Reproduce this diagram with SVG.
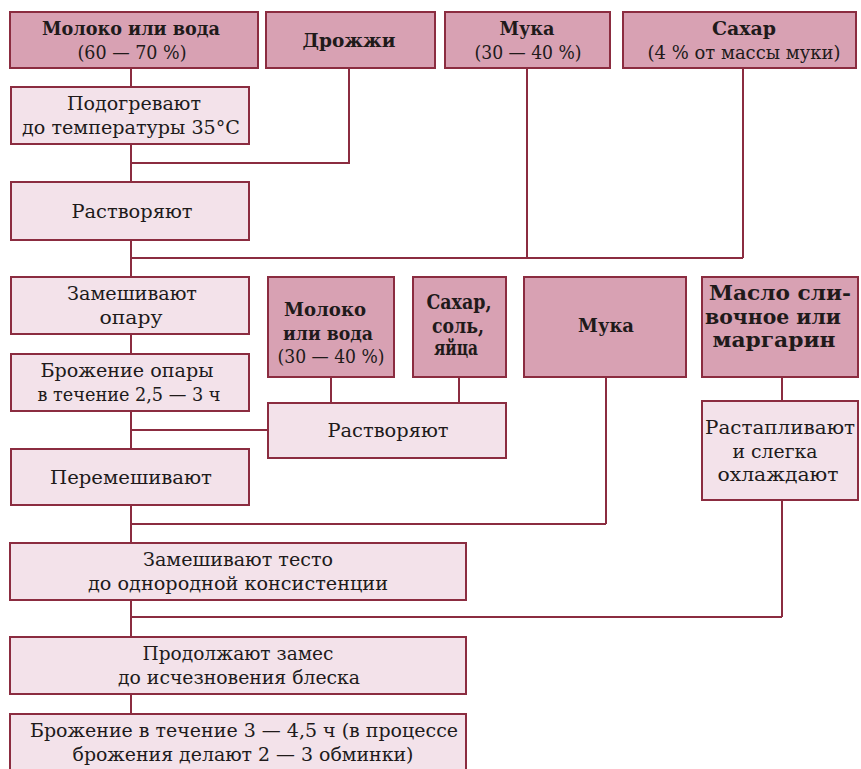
<svg xmlns="http://www.w3.org/2000/svg" width="861" height="769" viewBox="0 0 861 769">
<style>
.dk{fill:#d8a1b3;stroke:#8b2c40;stroke-width:2}
.lt{fill:#f3e2ea;stroke:#8b2c40;stroke-width:2}
.ln{fill:none;stroke:#8b2c40;stroke-width:2}
text{font-family:"DejaVu Serif","Liberation Serif",serif;font-size:19px;fill:#201a1a;text-anchor:middle}
.b{font-weight:bold;font-size:18px}
.bb{font-weight:bold;font-size:19.5px}
</style>
<rect width="861" height="769" fill="#ffffff"/>
<g id="connectors">
<path class="ln" d="M131 68V87M349 68V163H131M131 144V182M131 240V277M131 258H743M527 68V258M743 68V258M131 334V354M131 411V449M131 430H268M331 377V403M459 377V403M131 505V543M131 524H606M606 377V524M782 377V401M782 500V617M131 617H782M131 600V637M131 694V714"/>
</g>
<g id="n1"><rect class="dk" x="10" y="12" width="248" height="56"/><text x="131" y="35" class="b" textLength="178" lengthAdjust="spacingAndGlyphs">Молоко или вода</text><text x="132" y="59" textLength="109" lengthAdjust="spacingAndGlyphs">(60 — 70 %)</text></g>
<g id="n2"><rect class="dk" x="266" y="12" width="169" height="56"/><text x="349" y="47" class="b" textLength="93" lengthAdjust="spacingAndGlyphs">Дрожжи</text></g>
<g id="n3"><rect class="dk" x="445" y="12" width="165" height="56"/><text x="527" y="35" class="b" textLength="55" lengthAdjust="spacingAndGlyphs">Мука</text><text x="528" y="59" textLength="107" lengthAdjust="spacingAndGlyphs">(30 — 40 %)</text></g>
<g id="n4"><rect class="dk" x="623" y="12" width="233" height="56"/><text x="744" y="35" class="b" textLength="64" lengthAdjust="spacingAndGlyphs">Сахар</text><text x="744" y="59" textLength="193" lengthAdjust="spacingAndGlyphs">(4 % от массы муки)</text></g>
<g id="n5"><rect class="lt" x="11" y="87" width="238" height="57"/><text x="134" y="110" textLength="134" lengthAdjust="spacingAndGlyphs">Подогревают</text><text x="131" y="134" textLength="218" lengthAdjust="spacingAndGlyphs">до температуры 35°C</text></g>
<g id="n6"><rect class="lt" x="11" y="182" width="238" height="58"/><text x="132" y="218" textLength="121" lengthAdjust="spacingAndGlyphs">Растворяют</text></g>
<g id="n7"><rect class="lt" x="11" y="277" width="238" height="57"/><text x="132" y="300" textLength="130" lengthAdjust="spacingAndGlyphs">Замешивают</text><text x="131" y="324" textLength="63" lengthAdjust="spacingAndGlyphs">опару</text></g>
<g id="n8"><rect class="lt" x="11" y="354" width="238" height="57"/><text x="127" y="377" textLength="173" lengthAdjust="spacingAndGlyphs">Брожение опары</text><text x="129" y="401" textLength="183" lengthAdjust="spacingAndGlyphs">в течение 2,5 — 3 ч</text></g>
<g id="n9"><rect class="lt" x="11" y="449" width="238" height="56"/><text x="131" y="484" textLength="162" lengthAdjust="spacingAndGlyphs">Перемешивают</text></g>
<g id="n10"><rect class="lt" x="10" y="543" width="456" height="57"/><text x="238" y="566" textLength="190" lengthAdjust="spacingAndGlyphs">Замешивают тесто</text><text x="238" y="590" textLength="300" lengthAdjust="spacingAndGlyphs">до однородной консистенции</text></g>
<g id="n11"><rect class="lt" x="10" y="637" width="456" height="57"/><text x="238" y="660" textLength="191" lengthAdjust="spacingAndGlyphs">Продолжают замес</text><text x="239" y="684" textLength="242" lengthAdjust="spacingAndGlyphs">до исчезновения блеска</text></g>
<g id="n12"><rect class="lt" x="10" y="714" width="456" height="62"/><text x="244" y="737" textLength="428" lengthAdjust="spacingAndGlyphs">Брожение в течение 3 — 4,5 ч (в процессе</text><text x="243" y="761" textLength="341" lengthAdjust="spacingAndGlyphs">брожения делают 2 — 3 обминки)</text></g>
<g id="n13"><rect class="dk" x="268" y="277" width="126" height="100"/><text x="325" y="316" class="b" textLength="82" lengthAdjust="spacingAndGlyphs">Молоко</text><text x="328" y="340" class="b" textLength="90" lengthAdjust="spacingAndGlyphs">или вода</text><text x="331" y="363" textLength="107" lengthAdjust="spacingAndGlyphs">(30 — 40 %)</text></g>
<g id="n14"><rect class="dk" x="413" y="277" width="93" height="100"/><text x="459" y="309" class="bb" textLength="65" lengthAdjust="spacingAndGlyphs">Сахар,</text><text x="458" y="333" class="bb" textLength="52" lengthAdjust="spacingAndGlyphs">соль,</text><text x="456" y="355" class="bb" textLength="44" lengthAdjust="spacingAndGlyphs">яйца</text></g>
<g id="n15"><rect class="dk" x="524" y="277" width="162" height="100"/><text x="606" y="332" class="b" textLength="56" lengthAdjust="spacingAndGlyphs">Мука</text></g>
<g id="n16"><rect class="dk" x="702" y="277" width="156" height="100"/><text x="780" y="300" class="bb" textLength="142" lengthAdjust="spacingAndGlyphs">Масло сли-</text><text x="773" y="324" class="bb" textLength="136" lengthAdjust="spacingAndGlyphs">вочное или</text><text x="774" y="347" class="bb" textLength="123" lengthAdjust="spacingAndGlyphs">маргарин</text></g>
<g id="n17"><rect class="lt" x="268" y="403" width="238" height="55"/><text x="388" y="437" textLength="121" lengthAdjust="spacingAndGlyphs">Растворяют</text></g>
<g id="n18"><rect class="lt" x="702" y="401" width="156" height="99"/><text x="780" y="434" textLength="150" lengthAdjust="spacingAndGlyphs">Растапливают</text><text x="775" y="458" textLength="85" lengthAdjust="spacingAndGlyphs">и слегка</text><text x="778" y="481" textLength="121" lengthAdjust="spacingAndGlyphs">охлаждают</text></g>
</svg>
